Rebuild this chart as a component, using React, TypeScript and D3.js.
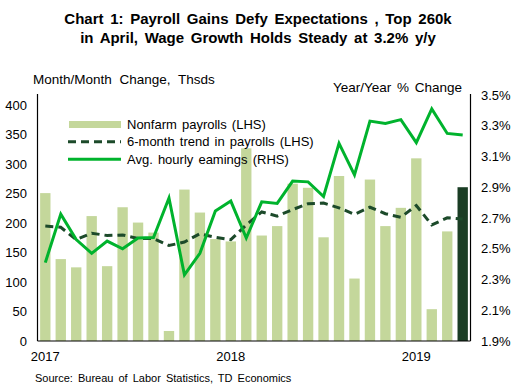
import React from "react";
import * as d3 from "d3";

const months: string[] = [
  "2017-01","2017-02","2017-03","2017-04","2017-05","2017-06","2017-07","2017-08","2017-09","2017-10","2017-11","2017-12",
  "2018-01","2018-02","2018-03","2018-04","2018-05","2018-06","2018-07","2018-08","2018-09","2018-10","2018-11","2018-12",
  "2019-01","2019-02","2019-03","2019-04",
];
const payrolls: number[] = [251,139,125,212,127,227,201,184,17,257,218,173,169,327,179,195,267,260,176,280,106,274,195,226,310,54,186,261];
const trend: number[] = [195,193,172,183,179,180,174,174,162,168,182,176,172,197,219,212,223,233,234,226,215,227,216,210,230,197,209,207];
const ahe: number[] = [2.41,2.725,2.56,2.47,2.55,2.50,2.57,2.573,2.83,2.33,2.47,2.745,2.81,2.57,2.805,2.795,2.94,2.935,2.84,3.185,2.98,3.33,3.315,3.34,3.19,3.41,3.25,3.24];
const yearLabels: { month: string; label: string }[] = [
  { month: "2017-01", label: "2017" },
  { month: "2018-01", label: "2018" },
  { month: "2019-01", label: "2019" },
];
const leftTicks: number[] = [0, 50, 100, 150, 200, 250, 300, 350, 400];
const rightTicks: number[] = [1.9, 2.1, 2.3, 2.5, 2.7, 2.9, 3.1, 3.3, 3.5];
const legendItems: string[] = ["Nonfarm payrolls (LHS)", "6-month trend in payrolls (LHS)", "Avg. hourly eamings (RHS)"];
const titleLines: string[] = ["Chart 1: Payroll Gains Defy Expectations , Top 260k", "in April, Wage Growth Holds Steady at 3.2% y/y"];

const W = 516, H = 385;
const left = 37.5, right = 470.5, top = 95, bottom = 341;
const FONT = "'Liberation Sans', Arial, sans-serif";
const BAR = "#c4d79b";
const DARK = "#1a3d24";
const TREND = "#1c4a2a";
const GREEN = "#00b32d";

export default function App() {
  const x = d3.scaleBand<string>().domain(months).range([left, right]).paddingInner(0.33).paddingOuter(0.17);
  const yL = d3.scaleLinear().domain([0, 417.5]).range([bottom, top]);
  const yR = d3.scaleLinear().domain([1.9, 3.5]).range([bottom, top]);
  const cx = (m: string) => (x(m) as number) + x.bandwidth() / 2;
  const trendLine = d3.line<number>().x((_, i) => cx(months[i])).y((d) => yL(d));
  const aheLine = d3.line<number>().x((_, i) => cx(months[i])).y((d) => yR(d));

  return (
    <svg width={W} height={H} style={{ position: "absolute", left: 0, top: 0, background: "#fff" }} fontFamily={FONT}>
      <rect width={W} height={H} fill="#fff" />
      {titleLines.map((t, i) => (
        <text key={t} x={258} y={23.5 + i * 19} textAnchor="middle" fontSize={15} fontWeight="bold" fill="#000" wordSpacing={2.5}>{t}</text>
      ))}
      <text x={33} y={84} fontSize={13.5} fill="#000" wordSpacing={4}>Month/Month Change, Thsds</text>
      <text x={333} y={92} fontSize={13.5} fill="#000" wordSpacing={2}>Year/Year % Change</text>

      {payrolls.map((v, i) => (
        <rect key={months[i]} x={x(months[i])} y={yL(v)} width={x.bandwidth()} height={yL(0) - yL(v)} fill={i === payrolls.length - 1 ? DARK : BAR} />
      ))}

      <path d={trendLine(trend) || ""} fill="none" stroke={TREND} strokeWidth={3} strokeDasharray="8,5" />
      <path d={aheLine(ahe) || ""} fill="none" stroke={GREEN} strokeWidth={3} strokeLinejoin="miter" />

      <line x1={left} x2={left} y1={top - 1} y2={bottom} stroke="#000" strokeWidth={1.2} />
      <line x1={right} x2={right} y1={top - 1} y2={bottom} stroke="#000" strokeWidth={1.2} />
      <line x1={left} x2={right} y1={bottom} y2={bottom} stroke="#000" strokeWidth={1.2} />

      {leftTicks.map((t) => (
        <text key={t} x={27} y={yL(t) + 4.5} textAnchor="end" fontSize={13} fill="#000">{t}</text>
      ))}
      {rightTicks.map((t) => (
        <text key={t} x={481} y={yR(t) + 4.5} fontSize={13} fill="#000">{t.toFixed(1) + "%"}</text>
      ))}
      {yearLabels.map((d) => (
        <text key={d.label} x={cx(d.month)} y={361} textAnchor="middle" fontSize={13} fill="#000">{d.label}</text>
      ))}

      <rect x={69} y={121} width={52} height={7} fill={BAR} />
      <line x1={68} x2={121} y1={141.7} y2={141.7} stroke={TREND} strokeWidth={3} strokeDasharray="8,5" />
      <line x1={68} x2={121} y1={159.3} y2={159.3} stroke={GREEN} strokeWidth={3} />
      {legendItems.map((t, i) => (
        <text key={t} x={127} y={128.5 + i * 17.6} fontSize={13} fill="#000" wordSpacing={1.5}>{t}</text>
      ))}

      <text x={35} y={382} fontSize={11} fill="#000" wordSpacing={2}>Source: Bureau of Labor Statistics, TD Economics</text>
    </svg>
  );
}
